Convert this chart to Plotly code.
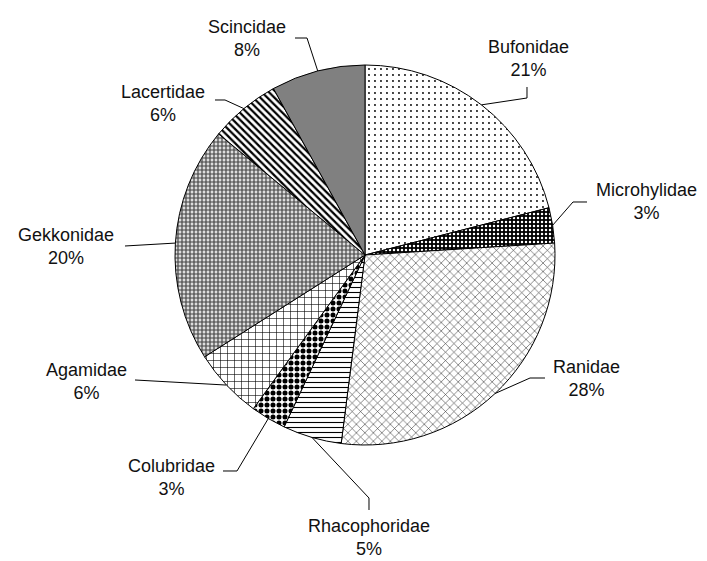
import math
import plotly.graph_objects as go

# ---- data ----
families = ["Bufonidae", "Microhylidae", "Ranidae", "Rhacophoridae", "Colubridae",
            "Agamidae", "Gekkonidae", "Lacertidae", "Scincidae"]
shares = [21, 3, 28, 5, 3, 6, 20, 6, 8]

# ---- styling ----
W, H = 707, 561
CX, CY, R = 365, 255, 190  # pie centre / radius in pixels

pat_shape = [".", ".", "x", "-", ".", "+", "+", "\\", ""]
pat_fg = ["black", "white", "#333333", "black", "black", "black", "#444444", "black", "#808080"]
pat_bg = ["white", "black", "white", "white", "white", "white", "#dddddd", "white", "#808080"]
pat_size = [6, 4, 6, 5, 6, 7, 4, 5, 8]
pat_sol = [0.08, 0.3, 0.18, 0.22, 0.55, 0.16, 0.5, 0.45, 0.5]
slice_colors = ["white", "black", "white", "white", "white", "white", "#dddddd", "white", "#808080"]

# label centres and leader paths near the label (pixels)
label_pos = {
    "Bufonidae": (528, 58), "Microhylidae": (646, 201), "Ranidae": (586, 378),
    "Rhacophoridae": (369, 537), "Colubridae": (171, 477), "Agamidae": (86, 381),
    "Gekkonidae": (66, 246), "Lacertidae": (163, 103), "Scincidae": (247, 38),
}
leader_pts = {
    "Bufonidae": [(527, 87), (527, 98)],
    "Microhylidae": [(587, 202), (573, 202)],
    "Ranidae": [(545, 378), (530, 378)],
    "Rhacophoridae": [(369, 510), (369, 498)],
    "Colubridae": [(223, 471), (237, 471)],
    "Agamidae": [(135, 380)],
    "Gekkonidae": [(125, 246)],
    "Lacertidae": [(215, 100), (225, 100)],
    "Scincidae": [(295, 38), (307, 38)],
}

def px(x):
    return x / W

def py(y):
    return 1 - y / H

fig = go.Figure(go.Pie(
    labels=families, values=shares, sort=False, direction="clockwise", rotation=0,
    textinfo="none", textposition="none", hoverinfo="label+percent",
    marker=dict(
        colors=slice_colors,
        line=dict(color="black", width=1),
        pattern=dict(shape=pat_shape, fgcolor=pat_fg, bgcolor=pat_bg,
                     size=pat_size, solidity=pat_sol, fillmode="replace"),
    ),
    domain=dict(x=[px(CX - R), px(CX + R)], y=[py(CY + R), py(CY - R)]),
    showlegend=False,
))

total = sum(shares)
cum = 0
shapes = []
annotations = []
for name, v in zip(families, shares):
    mid = (cum + v / 2) / total * 2 * math.pi
    cum += v
    ax = CX + R * math.sin(mid)
    ay = CY - R * math.cos(mid)
    pts = leader_pts[name] + [(ax, ay)]
    path = "M " + " L ".join(f"{px(x):.5f},{py(y):.5f}" for x, y in pts)
    shapes.append(dict(type="path", path=path, xref="paper", yref="paper",
                       line=dict(color="black", width=1)))
    lx, ly = label_pos[name]
    pct = round(v / total * 100)
    annotations.append(dict(x=px(lx), y=py(ly), xref="paper", yref="paper",
                            text=f"{name}<br>{pct}%", showarrow=False,
                            xanchor="center", yanchor="middle", align="center",
                            font=dict(family="Liberation Sans, Arial", size=18, color="#111111")))

fig.update_layout(
    width=W, height=H, autosize=False,
    margin=dict(l=0, r=0, t=0, b=0),
    paper_bgcolor="white", plot_bgcolor="white",
    shapes=shapes, annotations=annotations,
)

fig.write_html("out.html", config={"displayModeBar": False},
               post_script="document.body.style.margin='0';document.body.style.overflow='hidden';")
